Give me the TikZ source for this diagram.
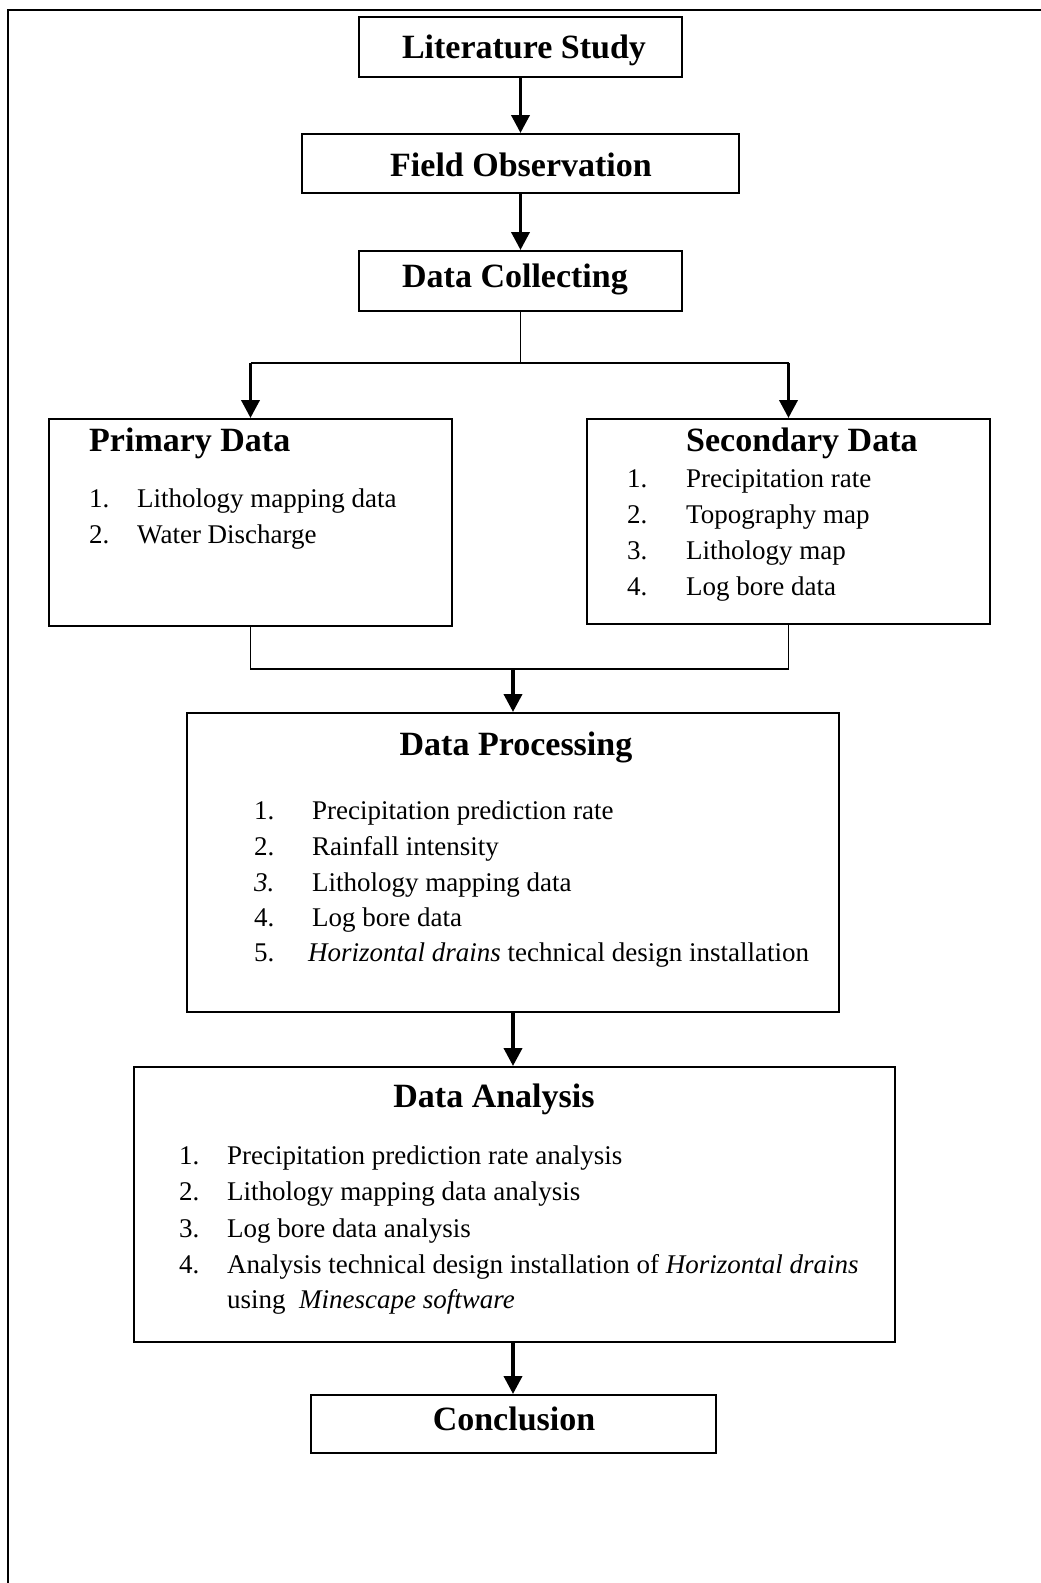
\documentclass[tikz,border=0pt]{standalone}
\usepackage{fontspec}
\setmainfont{Liberation Serif}
\usetikzlibrary{arrows.meta}
\newcommand{\ttlfont}{\fontsize{34}{40}\selectfont\bfseries}
\newcommand{\itmfont}{\fontsize{27}{32}\selectfont}
\begin{document}
\begin{tikzpicture}[x=1pt,y=-1pt,
  box/.style={draw, line width=2pt, inner sep=0pt},
  ttl/.style={anchor=base, inner sep=0pt, font=\ttlfont},
  ttlw/.style={anchor=base west, inner sep=0pt, font=\ttlfont},
  itm/.style={anchor=base west, inner sep=0pt, font=\itmfont},
  arr/.style={line width=3.8pt, -{Triangle[length=18pt 0,width=18pt 0]}},
  thinline/.style={line width=1.3pt},
  midline/.style={line width=2pt}]
\useasboundingbox (0,0) rectangle (1041,1583);
\fill[white] (0,0) rectangle (1041,1583);
% frame
\draw[line width=2pt] (1041,9.5) -- (8,9.5) -- (8,1583);

% boxes
\node[box, minimum width=323pt, minimum height=60pt] (lit) at (520.5,47) {};
\node[box, minimum width=437pt, minimum height=59pt] (field) at (520.5,163.5) {};
\node[box, minimum width=323pt, minimum height=60pt] (dc) at (520.5,281) {};
\node[box, minimum width=403pt, minimum height=207pt] (prim) at (250.5,522.5) {};
\node[box, minimum width=403pt, minimum height=205pt] (sec) at (788.5,521.5) {};
\node[box, minimum width=652pt, minimum height=299pt] (dp) at (513,862.5) {};
\node[box, minimum width=761pt, minimum height=275pt] (da) at (514.5,1204.5) {};
\node[box, minimum width=405pt, minimum height=58pt] (concl) at (513.5,1424) {};

% titles
\node[ttl] (litT) at (524,58) {Literature Study};
\node[ttl] (fieldT) at (521,176) {Field Observation};
\node[ttl] (dcT) at (515,287) {Data Collecting};
\node[ttlw] (primT) at (89,451) {Primary Data};
\node[ttlw] (secT) at (686,451) {Secondary Data};
\node[ttl] (dpT) at (516,755) {Data Processing};
\node[ttl] (daT) at (494,1107) {Data Analysis};
\node[ttl] (conclT) at (514,1430) {Conclusion};

% primary items
\node[itm] (p1n) at (89,507) {1.};
\node[itm] (p1) at (137,507) {Lithology mapping data};
\node[itm] (p2n) at (89,543) {2.};
\node[itm] (p2) at (137,543) {Water Discharge};

% secondary items
\node[itm] (s1n) at (627,487) {1.};
\node[itm] (s1) at (686,487) {Precipitation rate};
\node[itm] (s2n) at (627,523) {2.};
\node[itm] (s2) at (686,523) {Topography map};
\node[itm] (s3n) at (627,559) {3.};
\node[itm] (s3) at (686,559) {Lithology map};
\node[itm] (s4n) at (627,595) {4.};
\node[itm] (s4) at (686,595) {Log bore data};

% data processing items
\node[itm] (d1n) at (254,819) {1.};
\node[itm] (d1) at (312,819) {Precipitation prediction rate};
\node[itm] (d2n) at (254,855) {2.};
\node[itm] (d2) at (312,855) {Rainfall intensity};
\node[itm] (d3n) at (254,891) {\textit{3.}};
\node[itm] (d3) at (312,891) {Lithology mapping data};
\node[itm] (d4n) at (254,926) {4.};
\node[itm] (d4) at (312,926) {Log bore data};
\node[itm] (d5n) at (254,961) {5.};
\node[itm] (d5) at (308,961) {\textit{Horizontal drains} technical design installation};

% data analysis items
\node[itm] (a1n) at (179,1164) {1.};
\node[itm] (a1) at (227,1164) {Precipitation prediction rate analysis};
\node[itm] (a2n) at (179,1200) {2.};
\node[itm] (a2) at (227,1200) {Lithology mapping data analysis};
\node[itm] (a3n) at (179,1237) {3.};
\node[itm] (a3) at (227,1237) {Log bore data analysis};
\node[itm] (a4n) at (179,1273) {4.};
\node[itm] (a4) at (227,1273) {Analysis technical design installation of \textit{Horizontal drains}};
\node[itm] (a4b) at (227,1308) {using \ \textit{Minescape software}};

% connectors
\draw[arr] (lit.south) -- (field.north);
\draw[arr] (field.south) -- (dc.north);
\coordinate (split) at (520.5,363);
\draw[thinline] (dc.south) -- (split);
\draw[midline] (split -| prim.north) -- (split -| sec.north);
\draw[arr] (split -| prim.north) -- (prim.north);
\draw[arr] (split -| sec.north) -- (sec.north);
\coordinate (merge) at (513,669);
\draw[thinline] (prim.south) -- (prim.south |- merge) -- (sec.south |- merge) -- (sec.south);
\draw[arr] (merge) -- (dp.north);
\draw[arr] (dp.south) -- (dp.south |- da.north);
\draw[arr] (da.south -| dp.south) -- (dp.south |- concl.north);
\end{tikzpicture}
\end{document}
